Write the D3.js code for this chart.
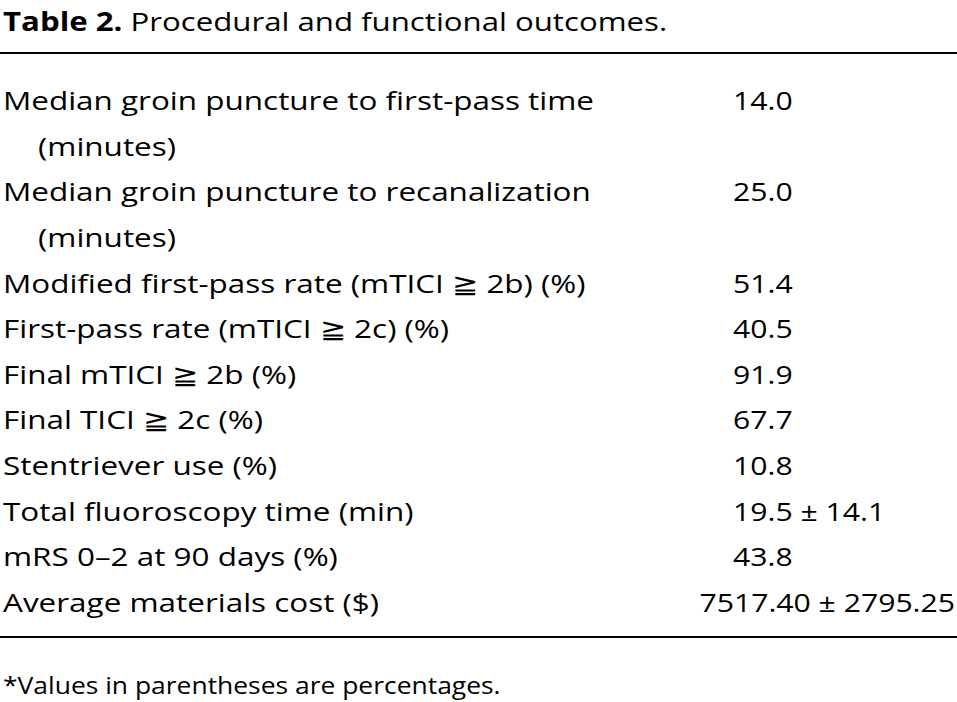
<!DOCTYPE html>
<head>
<meta charset="UTF-8" />
<script src="https://d3js.org/d3.v7.min.js"></script>
<style>
  body { margin:0; background:#fff; }
  text { font-family:"Open Sans", sans-serif; fill:#000; }
</style>
</head>
<body>
<div id="content"></div>
<script>
// Table rows: label lines (wrapped as in the source) and value
var labels = [
  ["Median groin puncture to first-pass time", "(minutes)"],
  ["Median groin puncture to recanalization", "(minutes)"],
  ["Modified first-pass rate (mTICI \u2267 2b) (%)"],
  ["First-pass rate (mTICI \u2267 2c) (%)"],
  ["Final mTICI \u2267 2b (%)"],
  ["Final TICI \u2267 2c (%)"],
  ["Stentriever use (%)"],
  ["Total fluoroscopy time (min)"],
  ["mRS 0\u20132 at 90 days (%)"],
  ["Average materials cost ($)"]
];
var values = ["14.0", "25.0", "51.4", "40.5", "91.9", "67.7", "10.8", "19.5 \u00b1 14.1", "43.8", "7517.40 \u00b1 2795.25"];
var footnote = "*Values in parentheses are percentages.";

var svg = d3.select("#content").append("svg").attr("width", 957).attr("height", 702);

// text stretched horizontally to match the wider original face
function put(x, y, size, sx, str, anchor) {
  return svg.append("text")
    .attr("transform", "translate(" + x + "," + y + ") scale(" + sx + ",1)")
    .attr("text-anchor", anchor || "start")
    .style("font-size", size + "px").text(str);
}

var t = svg.append("text").attr("transform", "translate(3,31) scale(1.2,1)").style("font-size", "26px");
t.append("tspan").style("font-weight", "bold").text("Table 2.");
t.append("tspan").text("  Procedural and functional outcomes.");

svg.append("line").attr("x1", 0).attr("x2", 957).attr("y1", 53).attr("y2", 53).attr("stroke", "#000").attr("stroke-width", 2);
svg.append("line").attr("x1", 0).attr("x2", 957).attr("y1", 637).attr("y2", 637).attr("stroke", "#000").attr("stroke-width", 2);

var starts = [], n = 0;
labels.forEach(function(l) { starts.push(n); n += l.length; });
var y = d3.scaleLinear().domain([0, n - 1]).range([110, 612]);

labels.forEach(function(l, i) {
  l.forEach(function(s, j) {
    put(j ? 38 : 3, y(starts[i] + j), 26, 1.21, s);
  });
  var last = i === labels.length - 1;
  put(last ? 955 : 733, y(starts[i]), 26, 1.16, values[i], last ? "end" : "start");
});

put(3, 694, 23, 1.15, footnote);
</script>
</body>
